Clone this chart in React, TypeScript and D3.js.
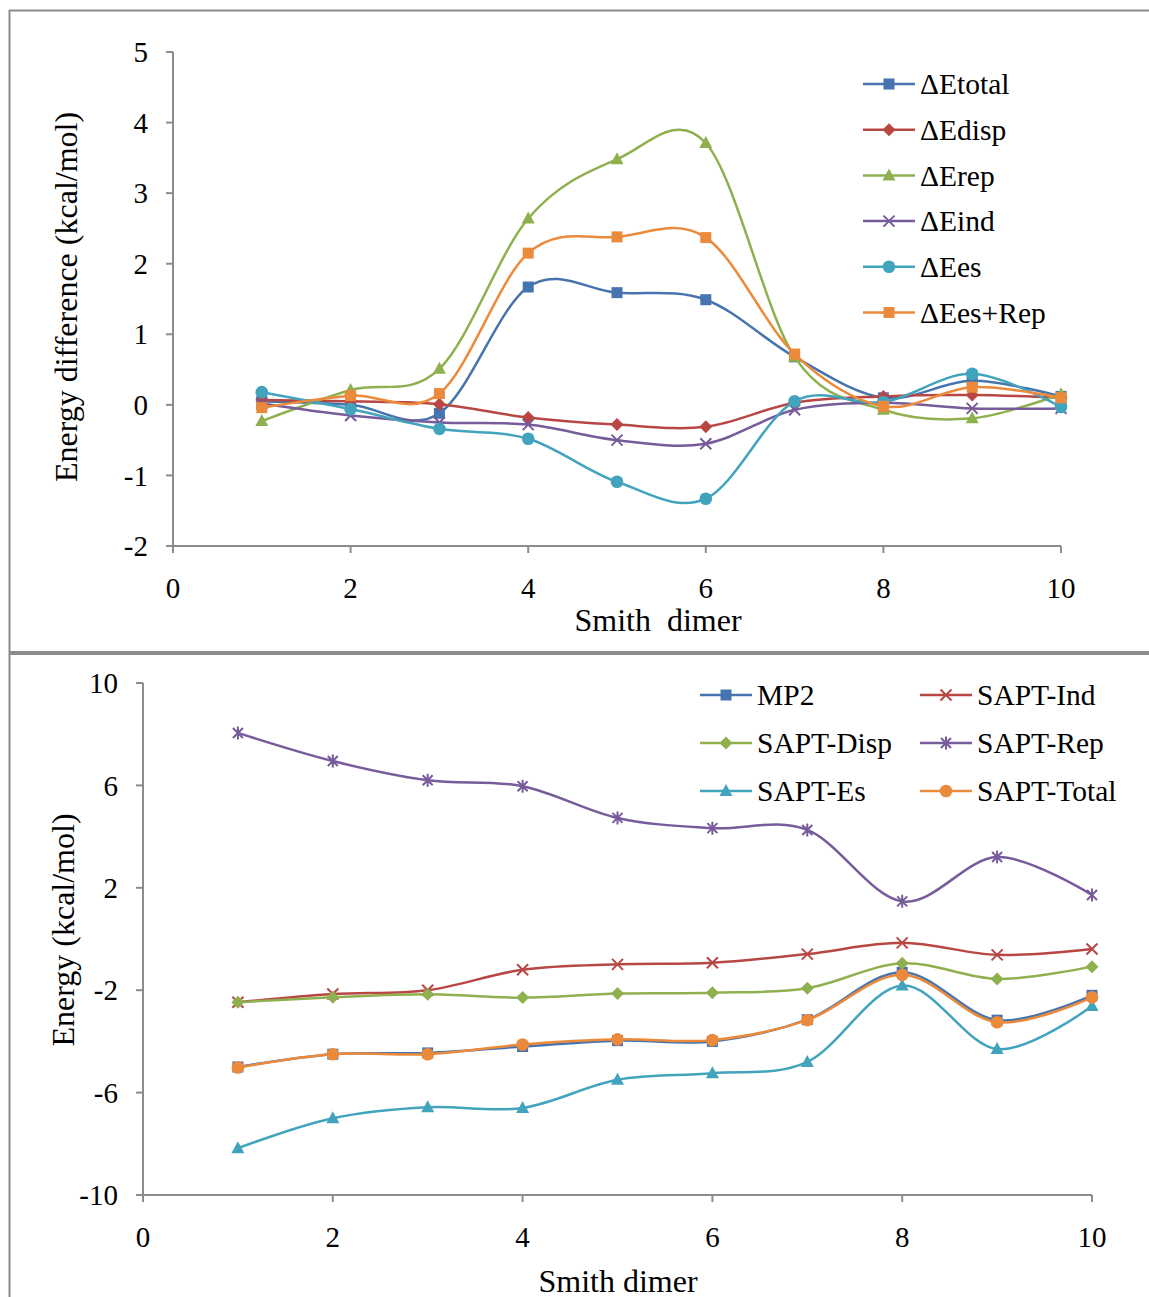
import React from "react";
import * as d3 from "d3";

const xs = [1, 2, 3, 4, 5, 6, 7, 8, 9, 10];

// Top chart series
const dEtotal = [0.05, 0.0, -0.12, 1.67, 1.59, 1.49, 0.68, 0.1, 0.34, 0.12];
const dEdisp = [0.07, 0.05, 0.01, -0.18, -0.28, -0.31, 0.03, 0.12, 0.14, 0.1];
const dErep = [-0.23, 0.21, 0.51, 2.64, 3.48, 3.71, 0.68, -0.07, -0.19, 0.15];
const dEind = [0.02, -0.15, -0.25, -0.28, -0.5, -0.55, -0.07, 0.03, -0.05, -0.05];
const dEes = [0.18, -0.06, -0.34, -0.48, -1.09, -1.33, 0.05, 0.04, 0.44, -0.03];
const dEesRep = [-0.04, 0.13, 0.16, 2.15, 2.38, 2.37, 0.72, -0.02, 0.25, 0.1];

const topNames = ["ΔEtotal", "ΔEdisp", "ΔErep", "ΔEind", "ΔEes", "ΔEes+Rep"];
const topYTicks = [5, 4, 3, 2, 1, 0, -1, -2];
const xTicks = [0, 2, 4, 6, 8, 10];

// Bottom chart series
const mp2 = [-5.0, -4.5, -4.45, -4.2, -3.97, -4.0, -3.15, -1.3, -3.17, -2.2];
const saptInd = [-2.47, -2.15, -2.0, -1.2, -0.99, -0.93, -0.59, -0.15, -0.62, -0.39];
const saptDisp = [-2.47, -2.28, -2.16, -2.29, -2.13, -2.1, -1.92, -0.95, -1.56, -1.08];
const saptRep = [8.05, 6.95, 6.2, 5.97, 4.73, 4.33, 4.26, 1.47, 3.2, 1.72];
const saptEs = [-8.17, -7.0, -6.57, -6.6, -5.5, -5.24, -4.8, -1.82, -4.3, -2.62];
const saptTotal = [-5.02, -4.5, -4.5, -4.12, -3.92, -3.95, -3.17, -1.4, -3.25, -2.28];

const bottomNames = ["MP2", "SAPT-Ind", "SAPT-Disp", "SAPT-Rep", "SAPT-Es", "SAPT-Total"];
const bottomYTicks = [10, 6, 2, -2, -6, -10];

const C = {
  blue: "#4674AE",
  red: "#B84744",
  green: "#8FB04F",
  purple: "#775B9A",
  teal: "#42A3BD",
  orange: "#EC8A3C",
};

const FONT = "'Liberation Serif', 'Times New Roman', serif";
const AXIS = "#8c8c8c";
const TICK_FS = 29;
const LEG_FS = 29.5;
const TITLE_FS = 32;

type Marker = "square" | "diamond" | "triangle" | "x" | "circle" | "star";

function MarkerShape({ type, x, y, color }: { type: Marker; x: number; y: number; color: string }) {
  const s = 5.5;
  switch (type) {
    case "square":
      return <rect x={x - s} y={y - s} width={2 * s} height={2 * s} fill={color} />;
    case "diamond":
      return <path d={`M${x},${y - 6.5}L${x + 6.5},${y}L${x},${y + 6.5}L${x - 6.5},${y}Z`} fill={color} />;
    case "triangle":
      return <path d={`M${x},${y - 7}L${x + 6.5},${y + 5}L${x - 6.5},${y + 5}Z`} fill={color} />;
    case "circle":
      return <circle cx={x} cy={y} r={6.3} fill={color} />;
    case "x":
      return (
        <path d={`M${x - 5.5},${y - 5.5}L${x + 5.5},${y + 5.5}M${x - 5.5},${y + 5.5}L${x + 5.5},${y - 5.5}`} stroke={color} strokeWidth={2} />
      );
    case "star":
      return (
        <path
          d={`M${x - 5},${y - 5}L${x + 5},${y + 5}M${x - 5},${y + 5}L${x + 5},${y - 5}M${x},${y - 6.5}L${x},${y + 6.5}`}
          stroke={color}
          strokeWidth={2}
        />
      );
  }
  return null;
}

type Series = { name: string; values: number[]; color: string; marker: Marker };

function Chart({
  series,
  x0,
  x1,
  y0,
  y1,
  yDomain,
  yTicks,
}: {
  series: Series[];
  x0: number;
  x1: number;
  y0: number;
  y1: number;
  yDomain: [number, number];
  yTicks: number[];
}) {
  const x = d3.scaleLinear().domain([0, 10]).range([x0, x1]);
  const y = d3.scaleLinear().domain(yDomain).range([y1, y0]);
  const line = d3
    .line<number>()
    .x((_, i) => x(xs[i]))
    .y((d) => y(d))
    .curve(d3.curveCardinal.tension(0));
  return (
    <g>
      <line x1={x0} x2={x0} y1={y0} y2={y1} stroke={AXIS} strokeWidth={2} />
      <line x1={x0} x2={x1} y1={y1} y2={y1} stroke={AXIS} strokeWidth={2} />
      {yTicks.map((t) => (
        <g key={"y" + t}>
          <line x1={x0 - 7} x2={x0} y1={y(t)} y2={y(t)} stroke={AXIS} strokeWidth={2} />
          <text x={x0 - 25} y={y(t)} dy="0.35em" textAnchor="end" fontFamily={FONT} fontSize={TICK_FS} fill="#000">
            {t}
          </text>
        </g>
      ))}
      {xTicks.map((t) => (
        <g key={"x" + t}>
          <line x1={x(t)} x2={x(t)} y1={y1} y2={y1 + 7} stroke={AXIS} strokeWidth={2} />
          <text x={x(t)} y={y1 + 52} textAnchor="middle" fontFamily={FONT} fontSize={TICK_FS} fill="#000">
            {t}
          </text>
        </g>
      ))}
      {series.map((s) => (
        <g key={s.name}>
          <path d={line(s.values) || ""} fill="none" stroke={s.color} strokeWidth={2.5} />
          {s.values.map((v, i) => (
            <MarkerShape key={i} type={s.marker} x={x(xs[i])} y={y(v)} color={s.color} />
          ))}
        </g>
      ))}
    </g>
  );
}

function LegendItem({ s, x, y }: { s: Series; x: number; y: number }) {
  return (
    <g>
      <line x1={x} x2={x + 52} y1={y} y2={y} stroke={s.color} strokeWidth={2.5} />
      <MarkerShape type={s.marker} x={x + 26} y={y} color={s.color} />
      <text x={x + 57} y={y} dy="0.35em" fontFamily={FONT} fontSize={LEG_FS} fill="#000">
        {s.name}
      </text>
    </g>
  );
}

export default function App() {
  const topSeries: Series[] = [
    { name: topNames[0], values: dEtotal, color: C.blue, marker: "square" },
    { name: topNames[1], values: dEdisp, color: C.red, marker: "diamond" },
    { name: topNames[2], values: dErep, color: C.green, marker: "triangle" },
    { name: topNames[3], values: dEind, color: C.purple, marker: "x" },
    { name: topNames[4], values: dEes, color: C.teal, marker: "circle" },
    { name: topNames[5], values: dEesRep, color: C.orange, marker: "square" },
  ];
  const bottomSeries: Series[] = [
    { name: bottomNames[0], values: mp2, color: C.blue, marker: "square" },
    { name: bottomNames[1], values: saptInd, color: C.red, marker: "x" },
    { name: bottomNames[2], values: saptDisp, color: C.green, marker: "diamond" },
    { name: bottomNames[3], values: saptRep, color: C.purple, marker: "star" },
    { name: bottomNames[4], values: saptEs, color: C.teal, marker: "triangle" },
    { name: bottomNames[5], values: saptTotal, color: C.orange, marker: "circle" },
  ];
  return (
    <svg width={1149} height={1297} style={{ position: "absolute", left: 0, top: 0, background: "#fff" }}>
      <rect x={0} y={0} width={1149} height={1297} fill="#fff" />
      <line x1={9} x2={1149} y1={10.5} y2={10.5} stroke={AXIS} strokeWidth={2} />
      <line x1={9.5} x2={9.5} y1={10} y2={1297} stroke={AXIS} strokeWidth={2} />
      <line x1={9} x2={1149} y1={653} y2={653} stroke={AXIS} strokeWidth={4} />

      {/* Top chart */}
      <Chart series={topSeries} x0={173} x1={1061} y0={52} y1={546} yDomain={[-2, 5]} yTicks={topYTicks} />
      {topSeries.map((s, i) => (
        <LegendItem key={s.name} s={s} x={863} y={84 + i * 45.7} />
      ))}
      <text transform="translate(77,297) rotate(-90)" textAnchor="middle" fontFamily={FONT} fontSize={TITLE_FS} fill="#000">
        Energy difference (kcal/mol)
      </text>
      <text x={658} y={631} textAnchor="middle" fontFamily={FONT} fontSize={TITLE_FS} fill="#000" style={{ whiteSpace: "pre" }}>
        {"Smith  dimer"}
      </text>

      {/* Bottom chart */}
      <Chart series={bottomSeries} x0={143} x1={1092} y0={683} y1={1195} yDomain={[-10, 10]} yTicks={bottomYTicks} />
      {bottomSeries.map((s, i) => (
        <LegendItem key={s.name} s={s} x={i % 2 === 0 ? 700 : 920} y={695 + Math.floor(i / 2) * 48} />
      ))}
      <text transform="translate(74,930) rotate(-90)" textAnchor="middle" fontFamily={FONT} fontSize={TITLE_FS} fill="#000">
        Energy (kcal/mol)
      </text>
      <text x={618} y={1292} textAnchor="middle" fontFamily={FONT} fontSize={TITLE_FS} fill="#000">
        Smith dimer
      </text>
    </svg>
  );
}
